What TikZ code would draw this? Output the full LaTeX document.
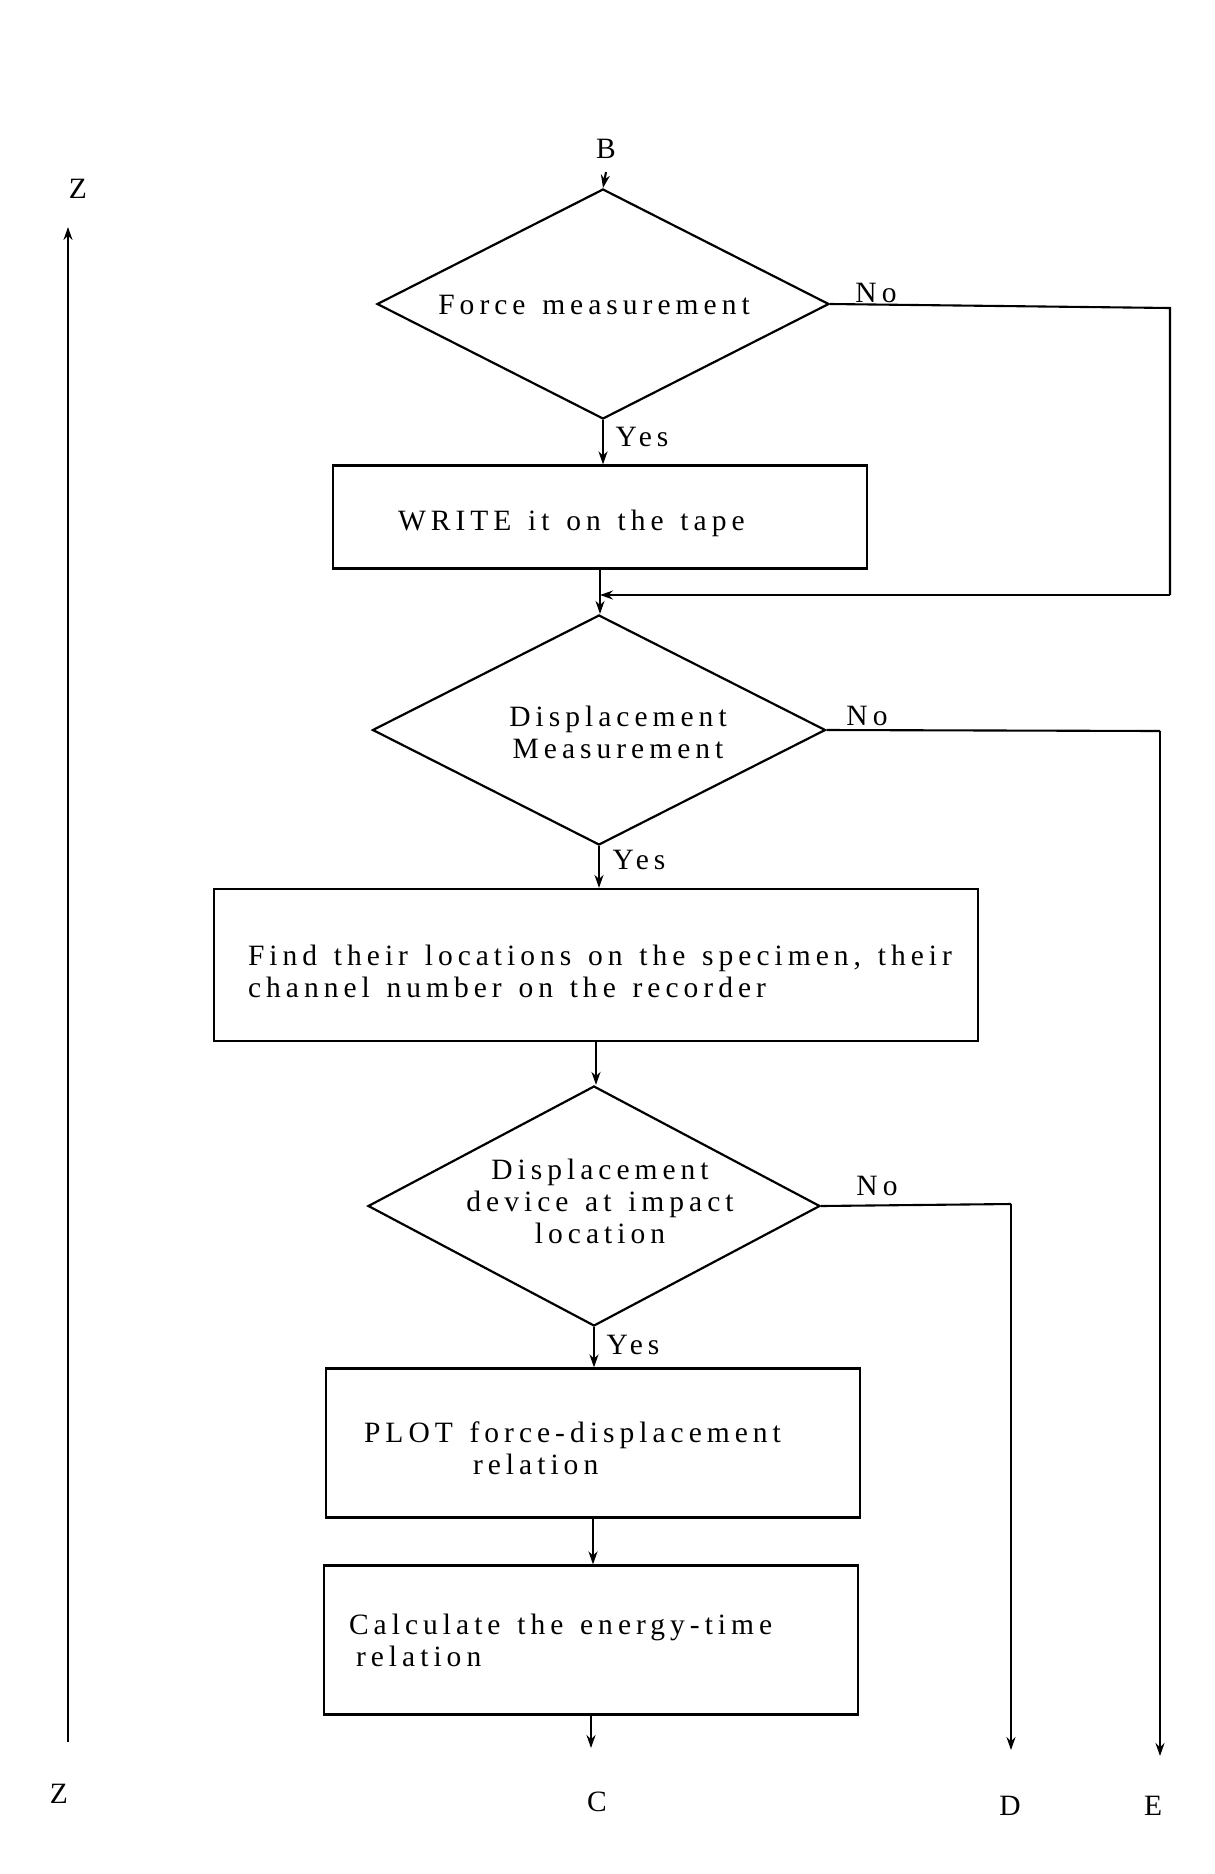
\documentclass[tikz,border=0pt]{standalone}
\usepackage{fontspec}
\setmainfont{Liberation Serif}[LetterSpace=17,WordSpace=1.35]
\usetikzlibrary{shapes.geometric,arrows.meta}
\begin{document}
\begin{tikzpicture}[x=1pt,y=-1pt,
  line width=2.1pt,
  every node/.style={font=\fontsize{29.5}{32}\selectfont, inner sep=0pt},
  decision/.style={draw, shape=diamond, line width=2.2pt},
  box/.style={draw, rectangle, line width=2.2pt},
  txt/.style={align=left},
  ctxt/.style={align=center},
  lbl/.style={},
  arr/.style={-{Stealth[length=13pt,width=9pt]}}]
\useasboundingbox (0,0) rectangle (1215,1874);
% connector labels
\node[lbl] (Ztop) at (78,189) {Z};
\node[lbl] (Btop) at (606,149) {B};
\node[lbl] (Zbot) at (59,1794) {Z};
\node[lbl] (C) at (597,1802) {C};
\node[lbl] (D) at (1010,1806) {D};
\node[lbl] (E) at (1153,1806) {E};
% shapes
\node[decision, minimum width=452pt, minimum height=230pt] (d1) at (603,304) {};
\node[box, minimum width=534pt, minimum height=103pt] (b1) at (600,517) {};
\node[decision, minimum width=453pt, minimum height=230pt] (d2) at (599,730) {};
\node[box, minimum width=764pt, minimum height=152pt] (b2) at (596,965) {};
\node[decision, minimum width=452pt, minimum height=240pt] (d3) at (594,1206) {};
\node[box, minimum width=534pt, minimum height=149pt] (b3) at (593,1443) {};
\node[box, minimum width=534pt, minimum height=149pt] (b4) at (591,1640) {};
% texts
\node[ctxt] (d1t) at (594,305) {Force measurement};
\node[txt, anchor=west] (b1t) at (397,523) {WRITE it on the tape};
\node[ctxt] (d2t) at (618,732) {Displacement\\Measurement};
\node[txt, anchor=west] (b2t) at (247,971) {Find their locations on the specimen, their\\channel number on the recorder};
\node[ctxt] (d3t) at (600,1201) {Displacement\\device at impact\\location};
\node[txt, anchor=west] (b3t) at (363,1448) {PLOT force-displacement\\\hspace*{109pt}relation};
\node[txt, anchor=west] (b4t) at (348,1640) {Calculate the energy-time\\\hspace*{7pt}relation};
% branch labels
\node[lbl] (no1) at (876,293) {No};
\node[lbl] (yes1) at (642,437) {Yes};
\node[lbl] (no2) at (867,716) {No};
\node[lbl] (yes2) at (639,860) {Yes};
\node[lbl] (no3) at (877,1186) {No};
\node[lbl] (yes3) at (633,1345) {Yes};
% coordinates
\coordinate (bIn) at (606,172);
\coordinate (r1a) at (1170,308);
\coordinate (r1b) at (1170,595);
\coordinate (eTurn) at (1160,731);
\coordinate (eEnd) at (1160,1756);
\coordinate (dTurn) at (1011,1204);
\coordinate (dEnd) at (1011,1750);
\coordinate (cEnd) at (591,1748);
\coordinate (zStart) at (68,1742);
\coordinate (zEnd) at (68,227);
% connectors
\draw[arr] (bIn) -- (d1.north);
\draw[arr] (d1.south) -- (d1.south |- b1.north);
\draw (d1.east) -- (r1a) -- (r1b);
\draw[arr] (r1b) -- (b1.south |- r1b);
\draw[arr] (b1.south) -- (b1.south |- d2.north);
\draw[arr] (d2.south) -- (d2.south |- b2.north);
\draw (d2.east) -- (eTurn);
\draw[arr] (eTurn) -- (eEnd);
\draw[arr] (b2.south) -- (b2.south |- d3.north);
\draw[arr] (d3.south) -- (d3.south |- b3.north);
\draw (d3.east) -- (dTurn);
\draw[arr] (dTurn) -- (dEnd);
\draw[arr] (b3.south) -- (b3.south |- b4.north);
\draw[arr] (b4.south) -- (cEnd);
\draw[arr] (zStart) -- (zEnd);
\end{tikzpicture}
\end{document}
